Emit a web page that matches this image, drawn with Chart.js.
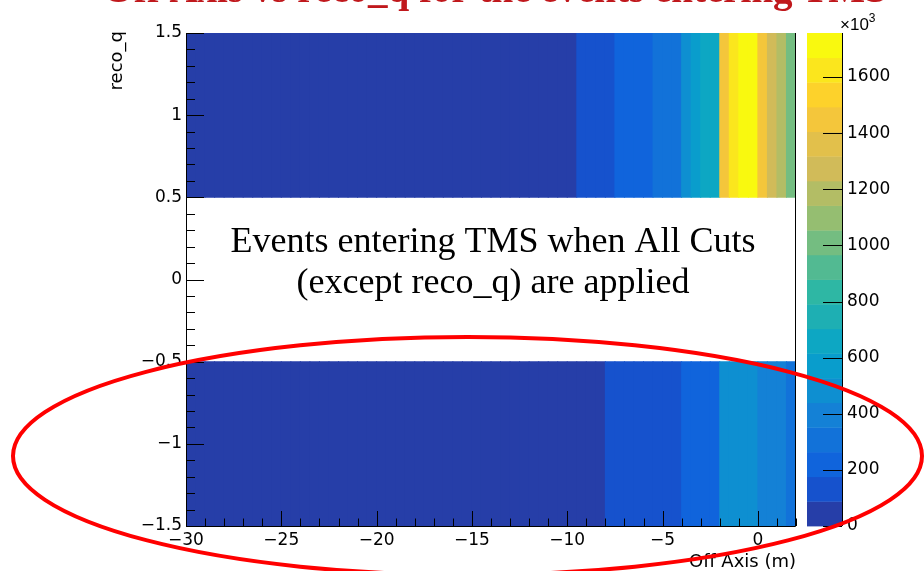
<!DOCTYPE html>
<html>
<head>
<meta charset="utf-8">
<script src="https://cdn.jsdelivr.net/npm/chart.js@4.4.0/dist/chart.umd.min.js"></script>
<style>
html,body{margin:0;padding:0;background:#fff;}
#wrap{width:924px;height:571px;position:relative;}
</style>
</head>
<body>
<div id="wrap"><canvas id="offAxisChart" width="924" height="571"></canvas></div>
<script>
// low edge of each off-axis bin (m), bins are 0.5 m wide
const offAxisBins=[-30,-29.5,-29,-28.5,-28,-27.5,-27,-26.5,-26,-25.5,-25,-24.5,-24,-23.5,-23,-22.5,
-22,-21.5,-21,-20.5,-20,-19.5,-19,-18.5,-18,-17.5,-17,-16.5,-16,-15.5,-15,-14.5,
-14,-13.5,-13,-12.5,-12,-11.5,-11,-10.5,-10,-9.5,-9,-8.5,-8,-7.5,-7,-6.5,
-6,-5.5,-5,-4.5,-4,-3.5,-3,-2.5,-2,-1.5,-1,-0.5,0,0.5,1,1.5];
const binWidth=0.5;

// reco_q rows (the -0.5..0.5 row is empty)
const recoQPos=[0.5,1.5];
const recoQNeg=[-1.5,-0.5];

// event counts per bin, x10^3
const countsPos=[18,19,21,22,23,25,26,27,29,30,32,33,35,36,38,40,41,43,45,46,
48,50,51,53,55,56,58,60,62,63,65,67,69,70,72,74,76,78,80,82,85,
98,118,140,162,186,208,231,255,280,308,338,483,570,640,688,
1448,1625,1715,1757,1440,1272,1188,1008];
const countsNeg=[10,11,12,13,14,15,16,17,18,19,20,22,23,25,26,28,29,31,32,34,
36,37,39,41,42,44,46,48,50,52,54,56,58,60,62,64,66,68,70,72,74,77,80,84,
94,104,114,124,135,147,158,170,186,203,222,246,452,478,501,520,428,404,381,318];

const xTicks=[-30,-25,-20,-15,-10,-5,0];
const yTicks=[-1.5,-1,-0.5,0,0.5,1,1.5];
const zTicks=[0,200,400,600,800,1000,1200,1400,1600];
const zMax=1757;
const nContours=20;

// kBird palette
const birdStops=[0.0,0.125,0.25,0.375,0.5,0.625,0.75,0.875,1.0];
const birdR=[0.2082,0.0592,0.0780,0.0232,0.1802,0.5301,0.8186,0.9956,0.9764];
const birdG=[0.1664,0.3599,0.5041,0.6419,0.7178,0.7492,0.7328,0.7862,0.9832];
const birdB=[0.5293,0.8684,0.8385,0.7914,0.6425,0.4662,0.3499,0.1968,0.0539];
const nColors=255;

const palette=[];
for(let g=1;g<birdStops.length;g++){
const n=Math.floor(nColors*birdStops[g])-Math.floor(nColors*birdStops[g-1]);
for(let c=0;c<n;c++){
const r=birdR[g-1]+c*(birdR[g]-birdR[g-1])/n;
const gg=birdG[g-1]+c*(birdG[g]-birdG[g-1])/n;
const b=birdB[g-1]+c*(birdB[g]-birdB[g-1])/n;
palette.push("rgb("+Math.round(r*255)+","+Math.round(gg*255)+","+Math.round(b*255)+")");
}
}

function bandColor(i){
return palette[Math.min(palette.length-1,Math.floor((i+0.99)*nColors/nContours))];
}
function colorFor(v){
let band=Math.floor(0.01+v*nContours/zMax);
return bandColor(Math.min(band,nContours-1));
}

function rowData(counts,range){
return counts.map((v,i)=>({x:offAxisBins[i]+binWidth/2,y:range}));
}

const fontSans='"DejaVu Sans", Verdana, sans-serif';
const minus=v=>String(v).replace("-","\u2212");

// vertical axes: no extra label padding above/below the plot
function fitVertical(width){
return s=>{s.width=width;s.paddingTop=0;s.paddingBottom=0;};
}

// ROOT style frame, inward ticks, palette axis and labels
const rootFrame={
id:"rootFrame",
afterDatasetsDraw(chart){
const {ctx,chartArea:a,scales:{x,y,z}}=chart;
ctx.save();
ctx.strokeStyle="#000";
ctx.lineWidth=1;
ctx.beginPath();
ctx.moveTo(a.left+0.5,a.top);ctx.lineTo(a.left+0.5,a.bottom+0.5);
ctx.lineTo(a.right-0.5,a.bottom+0.5);ctx.lineTo(a.right-0.5,a.top);
// x ticks: major every 5 m, minor every 1 m
for(let v=-30;v<=2;v++){
const px=Math.round(x.getPixelForValue(v))+0.5;
const len=(v%5===0)?15:7.5;
ctx.moveTo(px,a.bottom);ctx.lineTo(px,a.bottom-len);
}
// y ticks: major every 0.5, minor every 0.1
for(let k=-15;k<=15;k++){
const py=Math.round(y.getPixelForValue(k/10))+0.5;
const len=(k%5===0)?18:9;
ctx.moveTo(a.left,py);ctx.lineTo(a.left+len,py);
}
ctx.stroke();

// colour bar
const cbL=807,cbR=842;
for(let i=0;i<nContours;i++){
const y0=z.getPixelForValue(i*zMax/nContours);
const y1=z.getPixelForValue((i+1)*zMax/nContours);
ctx.fillStyle=bandColor(i);
ctx.fillRect(cbL,y1,cbR-cbL,y0-y1+0.4);
}
ctx.beginPath();
ctx.moveTo(cbR+0.5,z.top);ctx.lineTo(cbR+0.5,z.bottom);
zTicks.forEach(v=>{
const py=Math.round(z.getPixelForValue(v))+0.5;
ctx.moveTo(cbR,py);ctx.lineTo(cbR-19,py);
});
ctx.stroke();
ctx.restore();
},
afterDraw(chart){
const {ctx,chartArea:a}=chart;
ctx.save();
ctx.fillStyle="#000";
// x10^3 multiplier
ctx.font='17px "Liberation Sans", Arial, sans-serif';
ctx.textAlign="left";ctx.textBaseline="alphabetic";
ctx.fillText("\u00d710",840,30);
const w=ctx.measureText("\u00d710").width;
ctx.font='12px "Liberation Sans", Arial, sans-serif';
ctx.fillText("3",840+w,22);
// axis titles
ctx.font="18px "+fontSans;
ctx.textAlign="right";
ctx.fillText("Off Axis (m)",a.right,567);
ctx.save();
ctx.translate(122,a.top-2);
ctx.rotate(-Math.PI/2);
ctx.fillText("reco_q",0,0);
ctx.restore();
// note in the empty row
ctx.font='36px "Liberation Serif", "Times New Roman", serif';
ctx.textAlign="center";
ctx.fillText("Events entering TMS when All Cuts",493,252);
ctx.fillText("(except reco_q) are applied",493,293);
// title (runs off the top of the canvas)
ctx.font='bold 39px "Liberation Serif", "Times New Roman", serif';
ctx.fillStyle="#c0181c";
ctx.textAlign="left";
const title="Off Axis vs reco_q for the events entering TMS";
const x0=368-ctx.measureText("Off Axis vs reco").width;
ctx.fillText(title,x0,2);
// red ellipse around the negative reco_q row
ctx.strokeStyle="#ff0000";
ctx.lineWidth=4;
ctx.beginPath();
ctx.ellipse(467.5,456,454.5,119,0,0,Math.PI*2);
ctx.stroke();
ctx.restore();
}
};

new Chart(document.getElementById("offAxisChart"),{
type:"bar",
data:{
datasets:[
{data:rowData(countsNeg,recoQNeg),backgroundColor:countsNeg.map(colorFor),borderWidth:0,inflateAmount:0.5},
{data:rowData(countsPos,recoQPos),backgroundColor:countsPos.map(colorFor),borderWidth:0,inflateAmount:0.5}
]
},
options:{
responsive:false,
animation:false,
events:[],
grouped:false,
barPercentage:1,
categoryPercentage:1,
layout:{padding:{top:33,left:0,right:0,bottom:0}},
plugins:{legend:{display:false},tooltip:{enabled:false},title:{display:false}},
scales:{
x:{type:"linear",min:-30,max:2,offset:false,
grid:{display:false,drawTicks:false},border:{display:false},
afterBuildTicks:s=>{s.ticks=xTicks.map(v=>({value:v}));},
afterFit:s=>{s.height=45;s.paddingLeft=0;s.paddingRight=0;},
ticks:{color:"#000",font:{family:fontSans,size:17},padding:4,maxRotation:0,autoSkip:false,callback:v=>minus(v)}},
y:{type:"linear",min:-1.5,max:1.5,
grid:{display:false,drawTicks:false},border:{display:false},
afterBuildTicks:s=>{s.ticks=yTicks.map(v=>({value:v}));},
afterFit:fitVertical(186),
ticks:{color:"#000",font:{family:fontSans,size:17},padding:4,autoSkip:false,callback:v=>minus(v)}},
z:{type:"linear",axis:"y",position:"right",min:0,max:zMax,
grid:{display:false,drawTicks:false},border:{display:false},
afterBuildTicks:s=>{s.ticks=zTicks.map(v=>({value:v}));},
afterFit:fitVertical(128),
ticks:{color:"#000",font:{family:fontSans,size:17},padding:51,autoSkip:false,callback:v=>String(v)}}
}
},
plugins:[rootFrame]
});
</script>
</body>
</html>
